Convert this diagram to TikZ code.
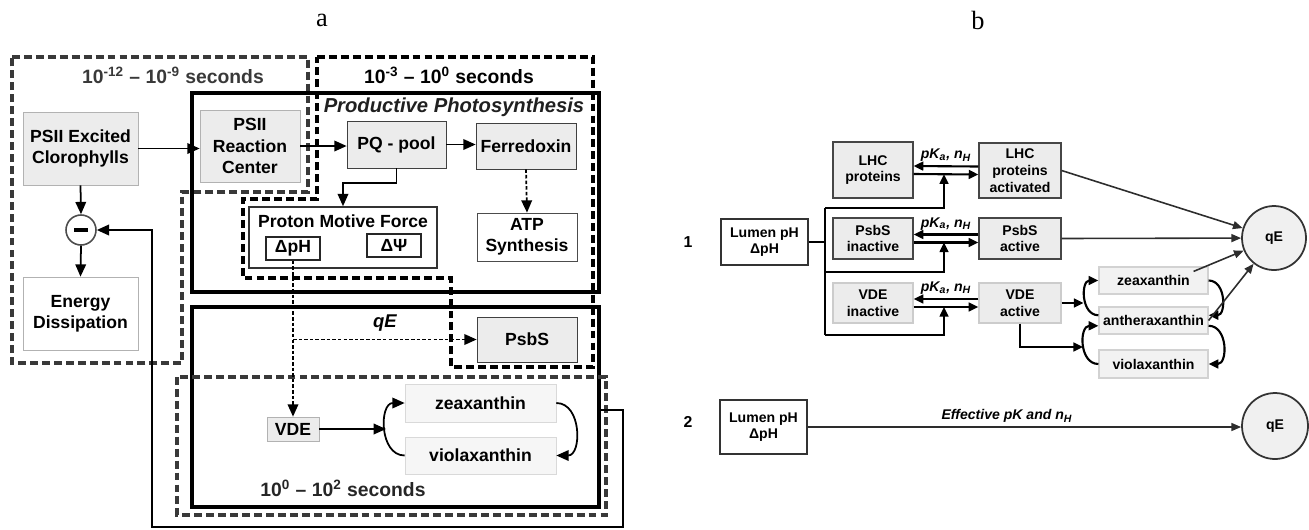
\documentclass[tikz,border=0pt]{standalone}
\usepackage{fontspec}
\setmainfont{Liberation Sans}
\newfontfamily\ttlfont{Liberation Serif}
\usetikzlibrary{arrows.meta,calc}

\tikzset{
  box/.style={draw,rectangle,align=center,inner sep=1pt,font=\bfseries\fontsize{10}{12}\selectfont},
  gbox/.style={box,fill=gray!15,draw=gray!60},
  wbox/.style={box,fill=white,draw=gray!60!black},
  lbox/.style={box,fill=gray!7,draw=gray!30},
  sbox/.style={box,font=\bfseries\fontsize{8}{9.5}\selectfont,fill=gray!15,draw=gray!55!black,line width=0.7pt},
  arr/.style={-{Triangle[length=7pt,width=6pt]},line width=1pt},
  darr/.style={arr,dash pattern=on 2pt off 1.2pt},
  barr/.style={-{Triangle[length=5.5pt,width=5pt]},line width=1.2pt},
  garr/.style={-{Triangle[length=5.5pt,width=4.5pt]},line width=0.9pt,draw=gray!35!black,fill=gray!35!black},
  thickframe/.style={line width=2.5pt},
  gdash/.style={line width=2pt,dash pattern=on 4.5pt off 2.3pt,draw=gray!45!black},
  kdash/.style={line width=2pt,dash pattern=on 4.5pt off 2.3pt},
  tlab/.style={font=\bfseries\fontsize{11}{13}\selectfont},
  plab/.style={font=\bfseries\itshape\fontsize{8}{9.5}\selectfont,inner sep=1pt},
  ttl/.style={font=\ttlfont\fontsize{15}{18}\selectfont}
}

\begin{document}
\begin{tikzpicture}[x=0.02cm,y=-0.02cm]
\useasboundingbox (0,0) rectangle (1309,529);

%%%Panel titles
\node[ttl] (ta) at (322,20) {a};
\node[ttl] (tb) at (978,20) {b};

%%%Panel a
\begin{scope}
%Time scale frames
\draw[gdash] (12,57) -- (308,57) -- (308,192) -- (182,192) -- (182,363) -- (12,363) -- cycle;
\draw[kdash] (317,57) -- (593,57) -- (593,367) -- (451,367) -- (451,278) -- (243,278) -- (243,199) -- (317,199) -- cycle;
\draw[thickframe] (192,93) rectangle (599,292);
\draw[thickframe] (192,307) rectangle (599,507);
\draw[gdash] (177,377) rectangle (606,515);
%Frame labels
\node[tlab,text=gray!45!black] (fast) at (173,75) {10\textsuperscript{-12} – 10\textsuperscript{-9} seconds};
\node[tlab] (mid) at (449,75) {10\textsuperscript{-3} – 10\textsuperscript{0} seconds};
\node[tlab,text=gray!30!black] (slow) at (343,488) {10\textsuperscript{0} – 10\textsuperscript{2} seconds};
\node[tlab,font=\bfseries\itshape\fontsize{11.5}{13}\selectfont,text=gray!25!black] (prod) at (454,107) {Productive Photosynthesis};
\node[tlab,font=\bfseries\itshape\fontsize{10.5}{12}\selectfont] (qelab) at (385,323) {qE};
%Boxes
\node[gbox,minimum width=2.3cm,minimum height=1.46cm] (exc) at (80.5,148.5) {PSII Excited\\Clorophylls};
\node[gbox,minimum width=2cm,minimum height=1.44cm] (rc) at (250,146) {PSII\\Reaction\\Center};
\node[gbox,draw=gray!50!black,minimum width=1.98cm,minimum height=0.94cm] (pq) at (396.5,144.5) {PQ - pool};
\node[gbox,draw=gray!50!black,minimum width=2cm,minimum height=0.92cm] (fd) at (526,146) {Ferredoxin};
\node[wbox,minimum width=2cm,minimum height=0.96cm] (atp) at (527,237) {ATP\\Synthesis};
\node[wbox,draw=black!80,line width=0.9pt,minimum width=3.76cm,minimum height=1.22cm] (pmf) at (343,237.5) {};
\node[box,draw=none] (pmft) at (343,221) {Proton Motive Force};
\node[wbox,draw=black!85,line width=0.9pt,minimum width=1.08cm,minimum height=0.46cm] (dph) at (293,248.5) {ΔpH};
\node[wbox,draw=black!85,line width=0.9pt,minimum width=1.08cm,minimum height=0.46cm] (dpsi) at (394,245.5) {ΔΨ};
\node[circle,draw=gray!60!black,fill=white,line width=0.9pt,minimum size=0.6cm] (mns) at (81,230) {};
\draw[line width=2.5pt] ([xshift=-0.14cm]mns.center) -- ([xshift=0.14cm]mns.center);
\node[wbox,draw=gray!60,minimum width=2.3cm,minimum height=1.46cm] (ed) at (80.5,313.5) {Energy\\Dissipation};
\node[gbox,draw=gray!50!black,minimum width=2cm,minimum height=0.9cm] (psbs) at (527,339.5) {PsbS};
\node[gbox,minimum width=1.04cm,minimum height=0.48cm] (vde) at (293,429) {VDE};
\node[lbox,minimum width=3.02cm,minimum height=0.76cm] (zea) at (480.5,403) {zeaxanthin};
\node[lbox,minimum width=3.02cm,minimum height=0.74cm] (vio) at (480.5,455.5) {violaxanthin};
%Electron flow
\draw[arr] (exc.east) -- (exc.east -| rc.west);
\draw[arr] (rc.east) -- (rc.east -| pq.west);
\draw[arr] (pq.east) -- (pq.east -| fd.west);
\draw[arr] (pq.south) -- ++(0,15) -| (pmf.north);
\draw[darr] (fd.south) -- (atp.north);
%Dissipation
\draw[arr] (exc.south) -- (mns.north);
\draw[arr] (mns.south) -- (ed.north);
%Lumen pH signal
\coordinate (split) at (dph.south |- psbs.west);
\draw[dash pattern=on 2pt off 1.2pt,line width=1pt] (dph.south) -- (split);
\draw[darr] (split) -- (psbs.west);
\draw[darr] (split) -- (vde.north);
%Xanthophyll cycle
\coordinate (cyc) at (386,429);
\draw[arr] (vde.east) -- (cyc);
\draw[arr] (vio.west) to[out=180,in=180,looseness=1.25] (zea.west);
\draw[arr] (zea.east) to[out=0,in=0,looseness=1.25] (vio.east);
%Feedback
\coordinate (fb) at (599,410);
\draw[arr,line width=1.2pt] (fb) -- (623,410) -- (623,527) -- (152,527) |- (mns.east);
\end{scope}

%%%Panel b
\begin{scope}
%Row numbers
\node[box,draw=none,font=\bfseries\fontsize{9}{11}\selectfont] (n1) at (688,242) {1};
\node[box,draw=none,font=\bfseries\fontsize{9}{11}\selectfont] (n2) at (688,422) {2};
%Model 1
\node[sbox,fill=white,draw=black!80,minimum width=1.74cm,minimum height=0.92cm] (lum1) at (764.5,242) {Lumen pH\\ΔpH};
\node[sbox,minimum width=1.6cm,minimum height=1.12cm] (lhc) at (873,170) {LHC\\proteins};
\node[sbox,minimum width=1.64cm,minimum height=1.1cm] (lhca) at (1020,170.5) {LHC\\proteins\\activated};
\node[sbox,minimum width=1.6cm,minimum height=0.82cm] (psi) at (873,238.5) {PsbS\\inactive};
\node[sbox,minimum width=1.64cm,minimum height=0.82cm] (psa) at (1020,238.5) {PsbS\\active};
\node[sbox,draw=gray!40,minimum width=1.6cm,minimum height=0.8cm] (vdi) at (873,303) {VDE\\inactive};
\node[sbox,draw=gray!40,minimum width=1.64cm,minimum height=0.8cm] (vda) at (1020,303) {VDE\\active};
\node[sbox,draw=gray!35,fill=gray!10,minimum width=2.18cm,minimum height=0.54cm] (zeb) at (1153.5,280.5) {zeaxanthin};
\node[sbox,draw=gray!35,fill=gray!10,minimum width=2.18cm,minimum height=0.54cm] (anb) at (1153.5,320.5) {antheraxanthin};
\node[sbox,draw=gray!35,fill=gray!10,minimum width=2.18cm,minimum height=0.56cm] (vib) at (1153.5,364) {violaxanthin};
\node[sbox,circle,fill=gray!12,draw=gray!40!black,line width=1pt,minimum size=1.28cm] (qe1) at (1274,238) {qE};
%Bus from lumen pH
\coordinate (bustop) at (825,208);
\coordinate (busbot) at (825,335);
\draw[line width=1.2pt] (lum1.east) -- (lum1.east -| bustop);
\draw[line width=1.2pt] (bustop) -- (busbot);
%Protonation equilibria
\foreach \l/\r/\yb in {lhc/lhca/208,psi/psa/272,vdi/vda/335}{
  \draw[barr] ([yshift=0.08cm]\r.west) -- ([yshift=0.08cm]\l.east) node[midway,above=1pt,plab] {pK\textsubscript{a}, n\textsubscript{H}};
  \draw[barr] ([yshift=-0.08cm]\l.east) -- ([yshift=-0.08cm]\r.west);
  \draw[barr] (825,\yb) -| ($(\l.east)!.5!(\r.west)+(-2,4)$);
}
%Xanthophyll cycle
\draw[barr] (vda.east) -- ++(22,0);
\draw[barr] (vda.south) |- (1083,347);
\draw[barr] ([yshift=3pt]anb.west) to[out=180,in=180,looseness=1.3] (zeb.west);
\draw[barr] (zeb.east) to[out=0,in=0,looseness=1.3] ([yshift=3pt]anb.east);
\draw[barr] (vib.west) to[out=180,in=180,looseness=1.3] ([yshift=-3pt]anb.west);
\draw[barr] ([yshift=-3pt]anb.east) to[out=0,in=0,looseness=1.3] (vib.east);
%Quenching
\draw[garr] (lhca.east) -- (qe1);
\draw[garr] (psa.east) -- (qe1);
\draw[garr] ($(zeb.north east)+(-15,5)$) -- (qe1);
\draw[garr] (anb.east) -- (qe1);
%Model 2
\node[sbox,fill=white,draw=black!80,minimum width=1.74cm,minimum height=1.08cm] (lum2) at (763.5,427) {Lumen pH\\ΔpH};
\node[sbox,circle,fill=gray!12,draw=gray!40!black,line width=1pt,minimum size=1.32cm] (qe2) at (1275,426) {qE};
\draw[garr] (lum2.east) -- (lum2.east -| qe2.west) node[pos=.46,above=1pt,plab] {Effective pK and n\textsubscript{H}};
\end{scope}

\end{tikzpicture}
\end{document}
